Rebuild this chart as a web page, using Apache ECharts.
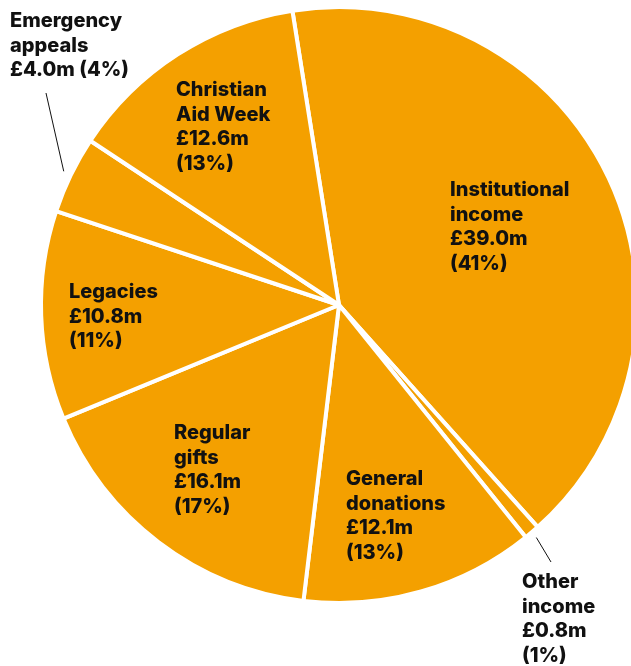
<!DOCTYPE html>
<html>
<head>
<meta charset="utf-8">
<script src="https://cdn.jsdelivr.net/npm/echarts@6/dist/echarts.min.js"></script>
<style>
  html, body { margin: 0; padding: 0; background: #ffffff; }
  #chart { width: 631px; height: 666px; }
</style>
</head>
<body>
<div id="chart"></div>
<script>
// Income sources, in order clockwise from the top of the pie
const categories = ['Institutional\nincome', 'Other\nincome', 'General\ndonations', 'Regular\ngifts', 'Legacies', 'Emergency\nappeals', 'Christian\nAid Week'];
const valuesM = [39.0, 0.8, 12.1, 16.1, 10.8, 4.0, 12.6];
const percents = [41, 1, 13, 17, 11, 4, 13];

// Presentation settings
const CENTER = [339, 305];
const RADIUS = 298;
const START_ANGLE = 99;
const ORANGE = '#F4A000';
const INK = '#111111';

// Label placement (top-left of each text block) and optional leader line
const labelPlacement = [
  { x: 450, y: 178 },
  { x: 522, y: 570, line: { r: 305, dx: 29, dy: -8 } },
  { x: 346, y: 467 },
  { x: 174, y: 421 },
  { x: 69, y: 280 },
  { x: 10, y: 9, sameLine: true, line: { r: 306, dx: 36, dy: 84 } },
  { x: 176, y: 78 }
];

const total = valuesM.reduce((a, b) => a + b, 0);
function midAngleRad(i) {
  let cum = 0;
  for (let k = 0; k < i; k++) cum += valuesM[k];
  const frac = (cum + valuesM[i] / 2) / total;
  return (START_ANGLE - frac * 360) * Math.PI / 180;
}

const data = categories.map((name, i) => {
  const p = labelPlacement[i];
  const item = {
    name: name,
    value: valuesM[i],
    label: {
      formatter: name + '\n£' + valuesM[i].toFixed(1) + 'm' + (p.sameLine ? ' ' : '\n') + '(' + percents[i] + '%)'
    }
  };
  if (p.line) {
    item.label.position = 'outside';
    item.labelLine = { show: true, length: 10, length2: 10, lineStyle: { color: INK, width: 1 } };
  }
  return item;
});

const chart = echarts.init(document.getElementById('chart'), null, { renderer: 'canvas' });
chart.setOption({
  backgroundColor: '#ffffff',
  animation: false,
  series: [{
    type: 'pie',
    center: CENTER,
    radius: RADIUS,
    startAngle: START_ANGLE,
    clockwise: true,
    avoidLabelOverlap: false,
    silent: true,
    itemStyle: { color: ORANGE, borderColor: '#ffffff', borderWidth: 4 },
    label: {
      show: true,
      position: 'inside',
      color: INK,
      fontFamily: 'Inter, "Liberation Sans", Arial, sans-serif',
      fontWeight: 800,
      fontSize: 20,
      lineHeight: 24.5,
      align: 'left'
    },
    labelLine: { show: false },
    labelLayout: function (params) {
      const i = params.dataIndex;
      const p = labelPlacement[i];
      const out = { x: p.x, y: p.y, align: 'left', verticalAlign: 'top' };
      if (p.line) {
        const a = midAngleRad(i);
        out.labelLinePoints = [
          [CENTER[0] + p.line.r * Math.cos(a), CENTER[1] - p.line.r * Math.sin(a)],
          [p.x + p.line.dx, p.y + p.line.dy]
        ];
      }
      return out;
    },
    data: data
  }]
});
</script>
</body>
</html>
